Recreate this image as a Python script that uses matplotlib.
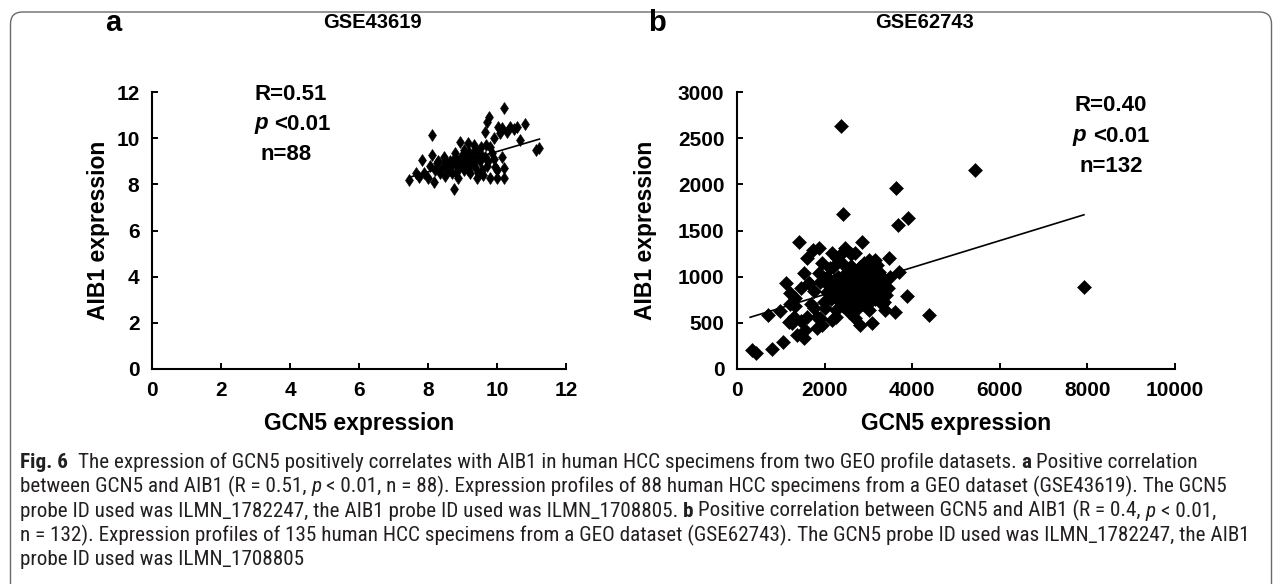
import matplotlib
matplotlib.use('Agg')
import matplotlib.pyplot as plt
from matplotlib import font_manager
from matplotlib.patches import FancyBboxPatch
from matplotlib.transforms import IdentityTransform

# ---- data ----
gcn5_a = [7.45, 7.65, 7.82, 7.87, 8.01, 8.11, 8.11, 8.16, 8.25, 8.35, 8.45, 8.49, 8.54,
          8.64, 8.69, 8.74, 8.78, 8.83, 8.88, 8.93, 8.98, 9.03, 9.07, 9.12, 9.17, 9.22,
          9.27, 9.32, 9.36, 9.41, 9.51, 9.56, 9.65, 9.68, 9.72, 9.75, 9.80, 9.85, 9.94,
          9.99, 10.04, 10.09, 10.14, 10.19, 10.21, 10.28, 10.38, 10.57, 10.67, 10.81,
          11.13, 11.23, 9.78, 10.2, 10.15, 10.5, 9.9,
          8.2, 8.3, 8.4, 8.5, 8.6, 8.7, 8.75, 8.8, 8.85, 8.9, 8.95, 9.0, 9.05, 9.1, 9.15,
          9.2, 9.25, 9.3, 9.35, 9.4, 9.45, 9.5, 9.55, 9.6, 9.65, 9.7, 9.8, 9.9, 10.0,
          8.05, 7.75]
aib1_a = [8.19, 8.48, 9.06, 8.48, 8.26, 10.14, 9.27, 8.12, 8.91, 8.48, 9.20, 8.34, 8.77,
          8.99, 8.48, 7.79, 9.35, 8.77, 8.26, 9.85, 9.06, 8.62, 9.35, 8.84, 9.78, 8.48,
          9.20, 9.71, 8.77, 8.26, 9.35, 8.62, 10.28, 9.71, 10.72, 8.99, 8.26, 9.35, 8.77,
          8.26, 10.50, 10.21, 9.20, 8.70, 8.26, 10.28, 10.50, 10.50, 9.92, 10.62,
          9.49, 9.56, 10.9, 11.3, 10.45, 10.4, 10.0,
          8.6, 9.0, 8.7, 9.0, 8.6, 8.9, 9.1, 8.5, 9.0, 8.7, 9.2, 8.9, 9.5, 9.1, 8.6,
          9.4, 8.9, 9.0, 9.5, 9.1, 8.5, 9.0, 9.6, 8.4, 9.2, 8.8, 9.6, 9.1, 8.6,
          8.8, 8.3]
trend_a_x = [7.45, 11.23]
trend_a_y = [8.30, 9.96]

gcn5_b = [342, 434, 799, 1050, 700, 989, 1180, 1126, 1218, 1408, 1598, 1735, 1865, 1522,
          1865, 1636, 1332, 1256, 1370, 1522, 1826, 1903, 2017, 2169, 2283, 2473, 2702,
          2854, 3006, 3463, 3501, 3706, 3881, 3615, 3349, 3082, 2816, 2702, 2131, 2207,
          2283, 2359, 2435, 2511, 2587, 2625, 2740, 2816, 2892, 2968, 3044, 3120, 3196,
          3272, 1903, 2055, 1979, 1750, 1826,
          2376, 5426, 3620, 2413, 3686, 3901, 7923, 4387, 1469, 2170, 3386, 1328,
          1950, 2050, 2100, 2150, 2200, 2250, 2300, 2330, 2380, 2400, 2420, 2450, 2480,
          2500, 2520, 2550, 2560, 2580, 2600, 2620, 2650, 2660, 2680, 2700, 2720, 2750,
          2760, 2780, 2800, 2820, 2850, 2870, 2900, 2920, 2950, 2980, 3000, 3020, 3050,
          3080, 3100, 3150, 3180, 3220, 3250, 3300, 3350, 3400, 3450, 1700, 1750, 1600,
          1650, 1450, 1300, 1200, 1550, 1950, 2250, 2350, 2600, 3150]
aib1_b = [206, 170, 217, 296, 585, 628, 513, 928, 820, 1379, 1199, 1289, 1307, 1036,
          1036, 928, 765, 495, 368, 332, 440, 549, 657, 1253, 1199, 1307, 1253,
          1379, 1180, 1206, 1000, 1054, 794, 621, 729, 495, 476, 549, 1090, 964,
          838, 729, 910, 801, 1018, 693, 946, 1108, 838, 1018, 729, 928, 1126,
          838, 946, 838, 729, 657, 567,
          2636, 2155, 1962, 1675, 1555, 1638, 888, 583, 517, 535, 644, 681,
          1150, 1000, 900, 760, 1100, 640, 1000, 880, 780, 1150, 680, 960, 840,
          740, 1050, 900, 620, 800, 1120, 960, 860, 720, 1040, 900, 800, 650,
          1000, 880, 760, 1060, 950, 700, 1150, 880, 780, 1080, 950, 640, 1030,
          850, 1100, 760, 980, 900, 1050, 700, 980, 800, 880, 700, 850, 560,
          930, 880, 560, 700, 420, 480, 560, 1230, 1250, 1180]
trend_b_x = [300, 7920]
trend_b_y = [560, 1670]

xticks_a = [0, 2, 4, 6, 8, 10, 12]
yticks_a = [0, 2, 4, 6, 8, 10, 12]
xticks_b = [0, 2000, 4000, 6000, 8000, 10000]
yticks_b = [0, 500, 1000, 1500, 2000, 2500, 3000]

caption_lines = [
    [("Fig. 6", "bold", "normal"),
     ("  The expression of GCN5 positively correlates with AIB1 in human HCC specimens from two GEO profile datasets. ", "normal", "normal"),
     ("a", "bold", "normal"), (" Positive correlation", "normal", "normal")],
    [("between GCN5 and AIB1 (R = 0.51, ", "normal", "normal"), ("p", "normal", "italic"),
     (" < 0.01, n = 88). Expression profiles of 88 human HCC specimens from a GEO dataset (GSE43619). The GCN5", "normal", "normal")],
    [("probe ID used was ILMN_1782247, the AIB1 probe ID used was ILMN_1708805. ", "normal", "normal"),
     ("b", "bold", "normal"), (" Positive correlation between GCN5 and AIB1 (R = 0.4, ", "normal", "normal"),
     ("p", "normal", "italic"), (" < 0.01,", "normal", "normal")],
    [("n = 132). Expression profiles of 135 human HCC specimens from a GEO dataset (GSE62743). The GCN5 probe ID used was ILMN_1782247, the AIB1", "normal", "normal")],
    [("probe ID used was ILMN_1708805", "normal", "normal")],
]

# ---- figure ----
W, H = 1282, 584
plt.rcParams['font.family'] = ['Liberation Sans', 'DejaVu Sans']
plt.rcParams['font.weight'] = 'bold'
fig = plt.figure(figsize=(W / 100, H / 100), dpi=100)
renderer = fig.canvas.get_renderer()

names = {f.name for f in font_manager.fontManager.ttflist}
cap_font = ['Open Sans']
for cand in ['Liberation Sans Narrow', 'Roboto Condensed', 'Open Sans Condensed', 'Roboto']:
    if cand in names:
        cap_font = [cand]
        break
cap_font = cap_font + ['DejaVu Sans']


def fx(x):
    return x / W


def fy(y):
    return 1 - y / H


def text_width(s, **kw):
    # width in pixels, spaces included
    t = fig.text(0, 0, '|' + s + '|', **kw)
    w1 = t.get_window_extent(renderer).width
    t.set_text('||')
    w2 = t.get_window_extent(renderer).width
    t.remove()
    return w1 - w2


def draw_runs(x, y, pieces, size, family, color, va='baseline', center=False):
    kws = [dict(fontsize=size, fontweight=w, fontstyle=st, family=family) for _, w, st in pieces]
    widths = [text_width(s, **kw) for (s, _, _), kw in zip(pieces, kws)]
    if center:
        x = x - sum(widths) / 2
    for (s, _, _), kw, w in zip(pieces, kws, widths):
        lead = len(s) - len(s.lstrip(' '))
        off = text_width(' ' * lead, **kw) if lead else 0
        fig.text(fx(x + off), fy(y), s.strip(' '), ha='left', va=va, color=color, **kw)
        x += w


# rounded frame round everything
frame = FancyBboxPatch((10.5, -30), 1261, 584 - 12 + 30, boxstyle="round,pad=0,rounding_size=12",
                       transform=IdentityTransform(), fill=False, edgecolor='#6a6a6a', lw=1.0)
fig.patches.append(frame)

ax_a = fig.add_axes([fx(152), fy(369), 414 / W, 277 / H])
ax_b = fig.add_axes([fx(737), fy(369), 438 / W, 277 / H])

panels = [
    (ax_a, gcn5_a, aib1_a, trend_a_x, trend_a_y, xticks_a, yticks_a, 'd', 6.2, -0.130),
    (ax_b, gcn5_b, aib1_b, trend_b_x, trend_b_y, xticks_b, yticks_b, 'D', 6.8, -0.210),
]
for ax, xs, ys, tx, ty, xt, yt, mk, ms, ylab_x in panels:
    ax.plot(xs, ys, linestyle='none', marker=mk, markersize=ms, color='black',
            markeredgecolor='black', markeredgewidth=0.4, clip_on=False)
    ax.plot(tx, ty, color='black', lw=1.2)
    ax.set_xlim(xt[0], xt[-1])
    ax.set_ylim(yt[0], yt[-1])
    ax.set_xticks(xt)
    ax.set_yticks(yt)
    for side in ['top', 'right']:
        ax.spines[side].set_visible(False)
    for side in ['left', 'bottom']:
        ax.spines[side].set_linewidth(1.5)
    ax.tick_params(direction='in', length=4, width=1.4, pad=9, labelsize=15)
    for lab in ax.get_xticklabels() + ax.get_yticklabels():
        lab.set_fontweight('bold')
    ax.set_xlabel('GCN5 expression', fontsize=16.5, fontweight='bold', va='center')
    ax.set_ylabel('AIB1 expression', fontsize=16.5, fontweight='bold', va='center')
    ax.xaxis.set_label_coords(0.5, -0.195)
    ax.yaxis.set_label_coords(ylab_x, 0.5)
    ax.patch.set_alpha(0)

# panel letters and titles
fig.text(fx(113), fy(23), 'a', fontsize=21, fontweight='bold', ha='center', va='center')
fig.text(fx(657), fy(23), 'b', fontsize=21, fontweight='bold', ha='center', va='center')
fig.text(fx(372), fy(23), 'GSE43619', fontsize=14.5, fontweight='bold', ha='center', va='center')
fig.text(fx(925), fy(23), 'GSE62743', fontsize=14.5, fontweight='bold', ha='center', va='center')

# statistics
chart_font = ['Liberation Sans', 'DejaVu Sans']
stat_a = [[("R=0.51", "bold", "normal")],
          [("p", "bold", "italic"), (" <0.01", "bold", "normal")],
          [(" n=88", "bold", "normal")]]
stat_b = [[("R=0.40", "bold", "normal")],
          [("p", "bold", "italic"), (" <0.01", "bold", "normal")],
          [("n=132", "bold", "normal")]]
for i, line in enumerate(stat_a):
    draw_runs(254, 94 + 30 * i, line, 16, chart_font, 'black', va='center')
for i, line in enumerate(stat_b):
    draw_runs(1111, 106 + 30 * i, line, 16, chart_font, 'black', va='center', center=True)

# caption: font size chosen so that no full line runs past its width in the reference
targets = [1208, 1233, 1221, 1222]
ratios = []
for line, tgt in zip(caption_lines[:4], targets):
    w = sum(text_width(s, fontsize=10, fontweight=wt, fontstyle=st, family=cap_font)
            for s, wt, st in line)
    ratios.append(tgt / w)
cap_size = 10 * min(ratios)
for i, line in enumerate(caption_lines):
    draw_runs(20, 468 + 24.3 * i, line, cap_size, cap_font, '#231f20')

fig.savefig('out.png', dpi=100)
